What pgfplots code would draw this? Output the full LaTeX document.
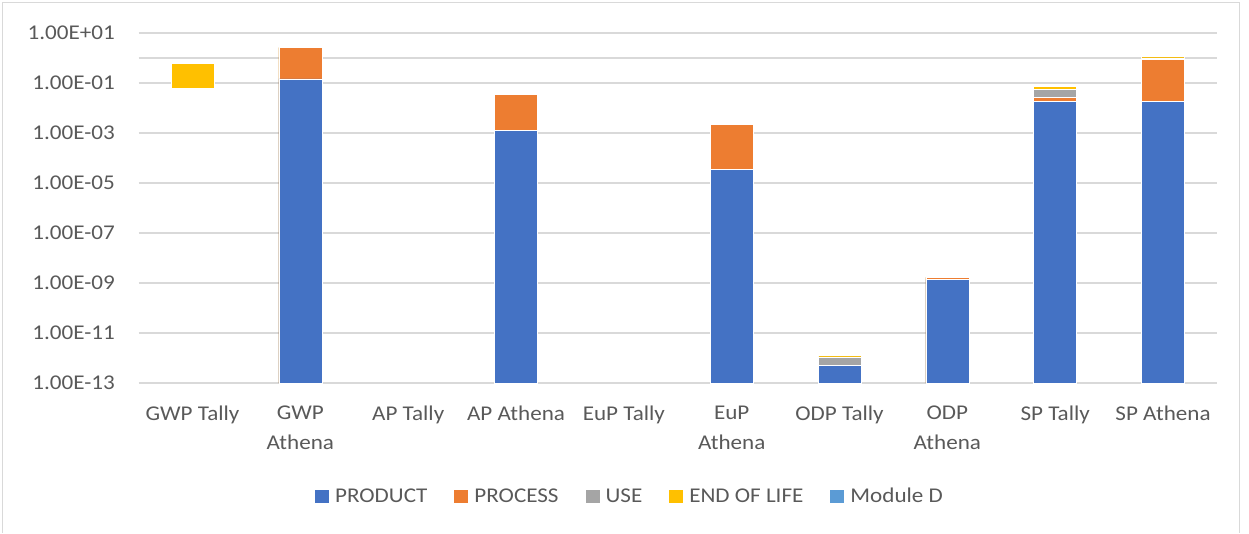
\documentclass[border=0pt]{standalone}
\usepackage{pgfplots}
\pgfplotsset{compat=1.18}
\usepackage{pgfplotstable}
\usepackage{fontspec}
\setmainfont{Carlito}[FakeStretch=1.1]
\definecolor{prodc}{HTML}{4472C4}
\definecolor{procc}{HTML}{ED7D31}
\definecolor{usec}{HTML}{A5A5A5}
\definecolor{eolc}{HTML}{FFC000}
\definecolor{modd}{HTML}{5B9BD5}
\definecolor{gridc}{HTML}{D9D9D9}
\definecolor{labelc}{HTML}{595959}
\newcommand\cf{\fontsize{21}{30}\selectfont}
% cumulative tops of the stacked segments (PRODUCT, +PROCESS, +USE, +END OF LIFE)
\pgfplotstableread{
x prod proc use eol
1 0.145 2.6 2.6 2.66
3 0.00123 0.0355 0.0355 0.0355
5 3.5e-5 0.00224 0.00224 0.00224
6 5.1e-13 5.1e-13 1.1e-12 1.23e-12
7 1.4e-9 1.69e-9 1.69e-9 1.69e-9
8 0.0183 0.0258 0.0575 0.071
9 0.0183 0.86 1.0 1.17
}\cumtab
\begin{document}
\begin{tikzpicture}
\path[use as bounding box] (0,0) rectangle (1249pt,533pt);
\begin{axis}[
  at={(138.6pt,150pt)}, anchor=south west, scale only axis,
  width=1078.4pt, height=350pt,
  ymode=log, log origin y=infty,
  ymin=1e-13, ymax=10, xmin=-0.5, xmax=9.5,
  xtick={0,...,9},
  xticklabels={{GWP Tally},{GWP\\Athena},{AP Tally},{AP Athena},{EuP Tally},{EuP\\Athena},{ODP Tally},{ODP\\Athena},{SP Tally},{SP Athena}},
  ytick={1e-13,1e-11,1e-9,1e-7,1e-5,1e-3,1e-1,1e1},
  yticklabels={1.00E-13,1.00E-11,1.00E-09,1.00E-07,1.00E-05,1.00E-03,1.00E-01,1.00E+01},
  extra y ticks={1}, extra y tick labels={},
  extra y tick style={grid=major},
  minor tick num=0,
  ymajorgrids, major grid style={draw=gridc, line width=1.3pt},
  axis line style={draw=none}, major tick length=0pt, minor tick length=0pt,
  tick label style={font=\cf, text=labelc},
  y tick label style={inner sep=0pt, xshift=-23.6pt},
  x tick label style={align=center, inner sep=0pt, anchor=north, yshift=-23pt},
  legend image code/.code={\fill[#1] (0pt,-6.5pt) rectangle (14pt,6.5pt);},
  legend columns=5,
  legend style={draw=none, fill=none, at={(0.4548,-0.3229)}, anchor=center,
    font=\cf, text=labelc, nodes={inner sep=0pt},
    /tikz/every even column/.append style={column sep=27pt},
    /tikz/every odd column/.append style={column sep=6pt}},
]
\addplot[ybar, bar width=43pt, bar shift=0pt, fill=eolc, draw=white, line width=0.6pt, forget plot] table[x=x,y=eol]{\cumtab};
\addplot[ybar, bar width=43pt, bar shift=0pt, fill=usec, draw=white, line width=0.6pt, forget plot] table[x=x,y=use]{\cumtab};
\addplot[ybar, bar width=43pt, bar shift=0pt, fill=procc, draw=white, line width=0.6pt, forget plot] table[x=x,y=proc]{\cumtab};
\addplot[ybar, bar width=43pt, bar shift=0pt, fill=prodc, draw=white, line width=0.6pt, forget plot] table[x=x,y=prod]{\cumtab};
% GWP Tally: END OF LIFE segment only
\addplot[fill=eolc, draw=white, line width=0.6pt, mark=none, forget plot] coordinates {(-0.1994,0.063) (0.1994,0.063) (0.1994,0.63) (-0.1994,0.63)} -- cycle;
\addlegendimage{fill=prodc, draw=none}\addlegendentry{PRODUCT}
\addlegendimage{fill=procc, draw=none}\addlegendentry{PROCESS}
\addlegendimage{fill=usec, draw=none}\addlegendentry{USE}
\addlegendimage{fill=eolc, draw=none}\addlegendentry{END OF LIFE}
\addlegendimage{fill=modd, draw=none}\addlegendentry{Module D}
\end{axis}
\draw[gridc, line width=1.2pt] (2.5pt,0pt) -- (2.5pt,530.5pt) -- (1239.5pt,530.5pt) -- (1239.5pt,0pt);
\end{tikzpicture}
\end{document}
